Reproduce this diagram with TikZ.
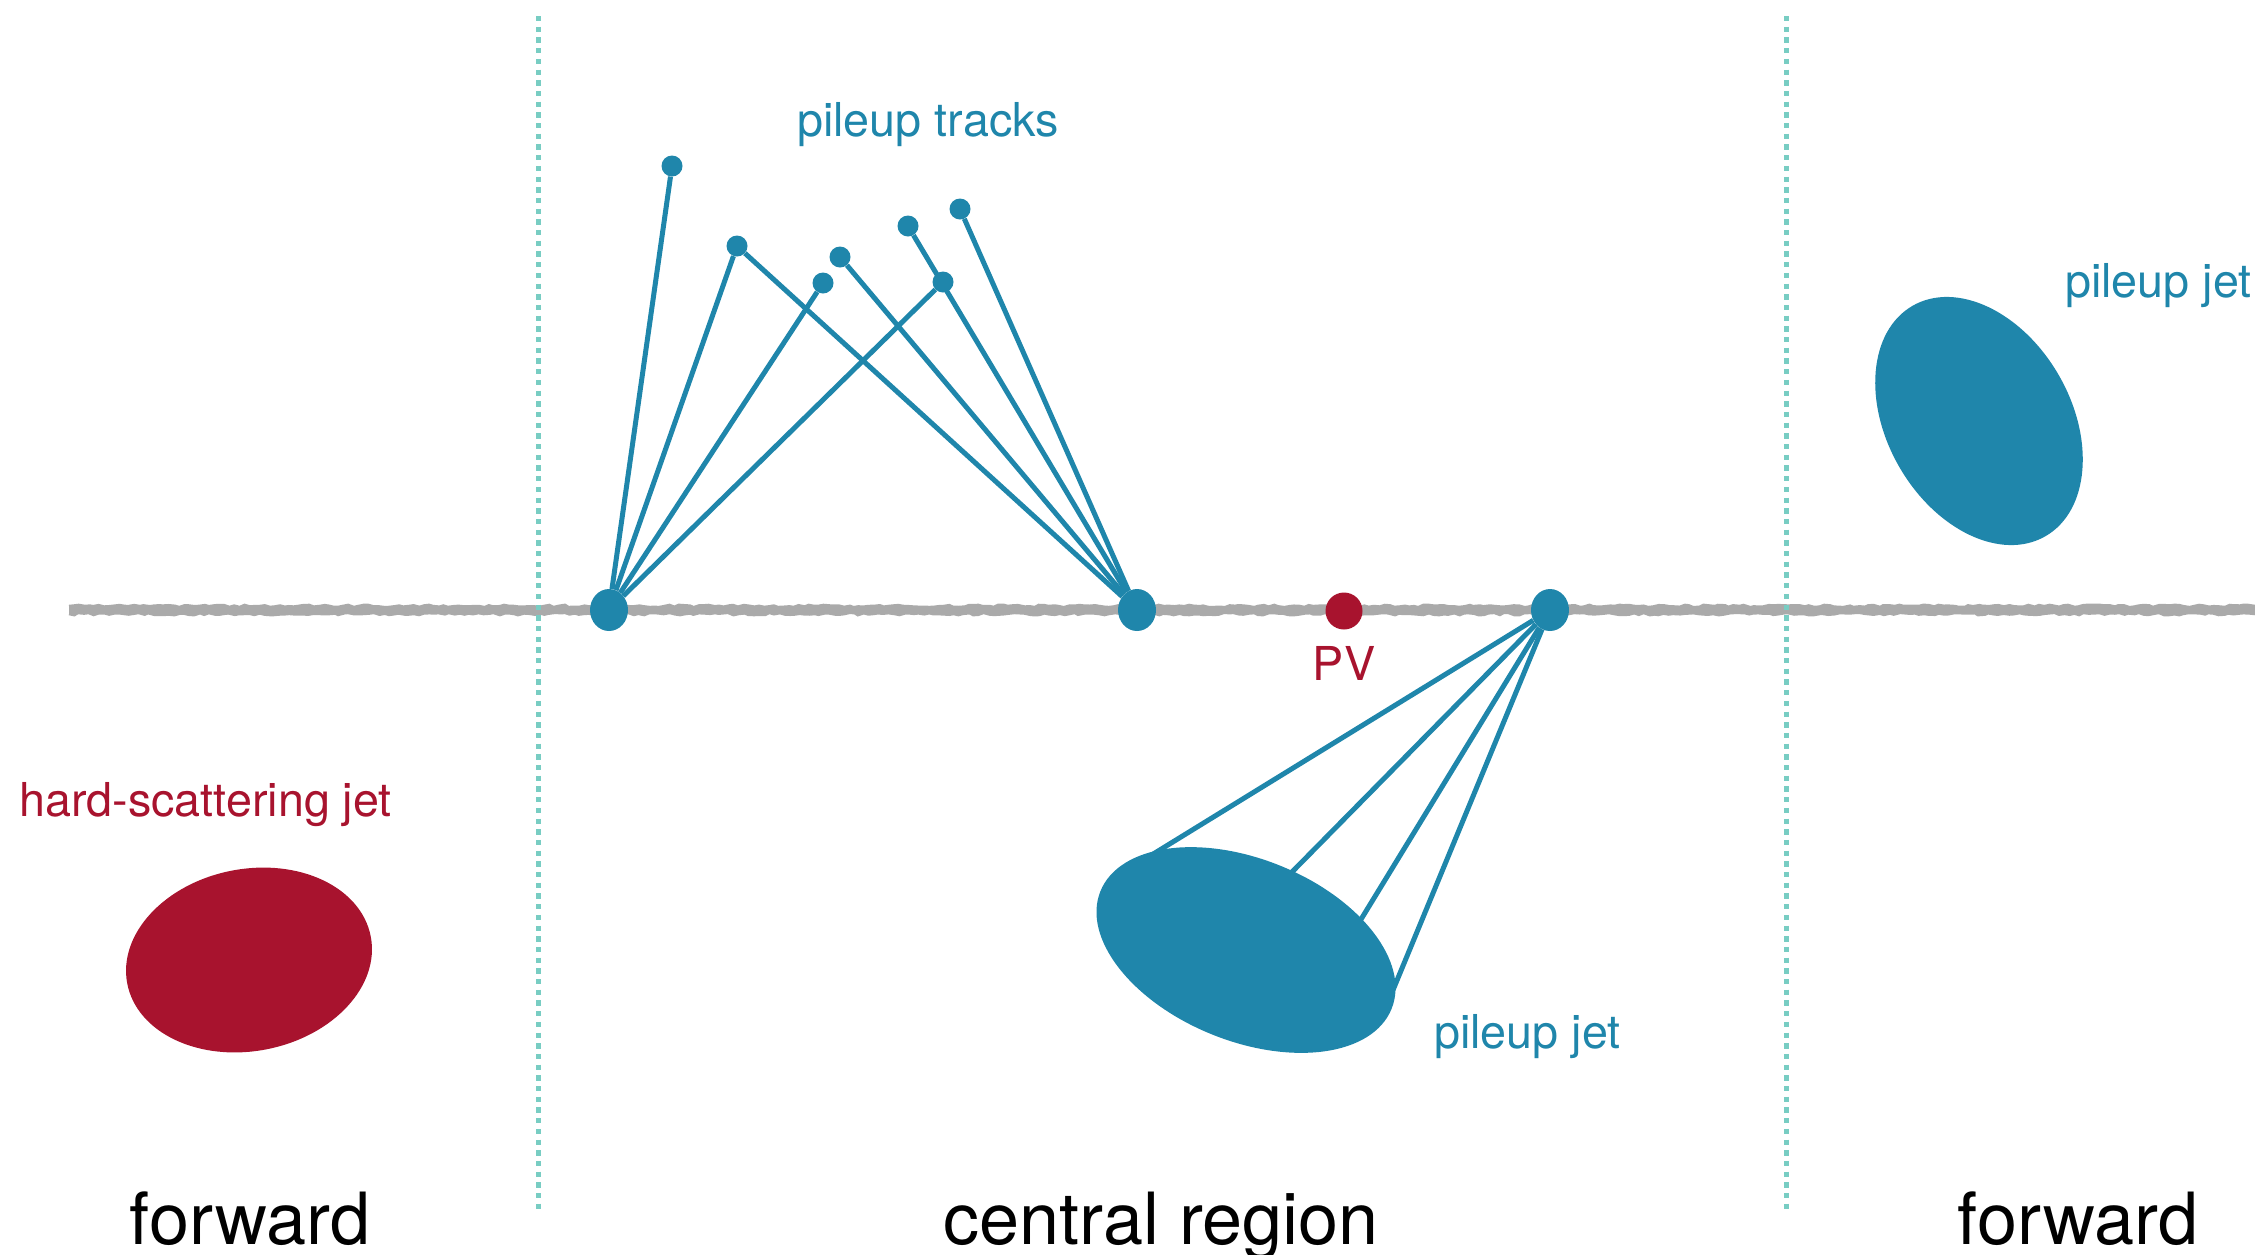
\documentclass[tikz,border=0pt]{standalone}
\usepackage{fontspec}
\setmainfont{TeX Gyre Heros}
\usetikzlibrary{shapes.geometric,decorations.pathmorphing}

\definecolor{pblue}{RGB}{31,134,171}
\definecolor{pred}{RGB}{168,19,46}
\definecolor{beamgray}{RGB}{170,170,170}
\definecolor{regionline}{RGB}{120,205,195}

\tikzset{
  vtx/.style={ellipse, fill=pblue, minimum width=38pt, minimum height=42pt, inner sep=0pt},
  pvtx/.style={circle, fill=pred, minimum size=37pt, inner sep=0pt},
  tipdot/.style={circle, fill=pblue, minimum size=21pt, inner sep=0pt},
  track/.style={draw=pblue, line width=5pt},
  jetblob/.style={ellipse, inner sep=0pt},
  beam/.style={draw=beamgray, line width=8pt},
  beamedge/.style={draw=beamgray, line width=2.5pt, decorate,
    decoration={random steps, segment length=5pt, amplitude=1.2pt}},
  divider/.style={draw=regionline, line width=5pt, dash pattern=on 5.3pt off 5.4pt},
  lbl/.style={font=\fontsize{46.7}{56}\selectfont, inner sep=0pt},
  region/.style={font=\fontsize{72}{86}\selectfont, inner sep=0pt, anchor=base},
}

\begin{document}
\begin{tikzpicture}[x=1pt, y=-1pt]
  \useasboundingbox (0,0) rectangle (2255,1254);

  % beam axis
  \coordinate (beamL) at (69,610);
  \coordinate (beamR) at (2255,610);
  \draw[beam] (beamL) -- (beamR);
  \draw[beamedge] (69,606) -- (2255,606);
  \draw[beamedge] (69,614) -- (2255,614);

  % region dividers
  \coordinate (divAtop) at (538,16);
  \coordinate (divAbot) at (538,1212);
  \coordinate (divBtop) at (1786,16);
  \coordinate (divBbot) at (1786,1212);
  \draw[divider] (divAtop) -- (divAbot);
  \draw[divider] (divBtop) -- (divBbot);

  % vertices on the beam axis
  \node[vtx] (v1) at (609,610) {};
  \node[vtx] (v2) at (1137,610) {};
  \node[vtx] (v3) at (1550,610) {};
  \node[pvtx] (pv) at (1344,611) {};

  % pileup track end points
  \node[tipdot] (t1) at (672,166) {};
  \node[tipdot] (t2) at (737,246) {};
  \node[tipdot] (t3) at (823,283) {};
  \node[tipdot] (t4) at (840,257) {};
  \node[tipdot] (t5) at (908,226) {};
  \node[tipdot] (t6) at (943,282) {};
  \node[tipdot] (t7) at (960,209) {};

  % pileup tracks from the first vertex
  \draw[track] (v1) -- (t1);
  \draw[track] (v1) -- (t2);
  \draw[track] (v1) -- (t3);
  \draw[track] (v1) -- (t6);
  % pileup tracks from the second vertex
  \draw[track] (v2) -- (t2);
  \draw[track] (v2) -- (t4);
  \draw[track] (v2) -- (t5);
  \draw[track] (v2) -- (t7);

  % pileup jet cone from the third vertex
  \coordinate (c1) at (1150,856);
  \coordinate (c2) at (1292,872);
  \coordinate (c3) at (1360,921);
  \coordinate (c4) at (1393,990);
  \draw[track] (v3) -- (c1);
  \draw[track] (v3) -- (c2);
  \draw[track] (v3) -- (c3);
  \draw[track] (v3) -- (c4);
  \node[jetblob, fill=pblue, minimum width=314pt, minimum height=182pt, rotate=-22] (jetC) at (1246,950) {};

  % other jets
  \node[jetblob, fill=pblue, minimum width=266pt, minimum height=184pt, rotate=-60] (jetF) at (1979,421) {};
  \node[jetblob, fill=pred, minimum width=248pt, minimum height=182pt, rotate=11] (jetHS) at (249,960) {};

  % labels
  \node[lbl, text=pblue, anchor=base west] (lTracks) at (797,136) {pileup tracks};
  \node[lbl, text=pblue, anchor=base west] (lJetF) at (2065,297) {pileup jet};
  \node[lbl, text=pblue, anchor=base west] (lJetC) at (1434,1048) {pileup jet};
  \node[lbl, text=pred, anchor=base west] (lHS) at (19,816) {hard-scattering jet};
  \node[lbl, text=pred, anchor=base] (lPV) at (1344,680) {PV};

  % detector regions
  \node[region] (rFwdL) at (250,1244) {forward};
  \node[region] (rCentral) at (1161,1244) {central region};
  \node[region] (rFwdR) at (2078,1244) {forward};
\end{tikzpicture}
\end{document}
